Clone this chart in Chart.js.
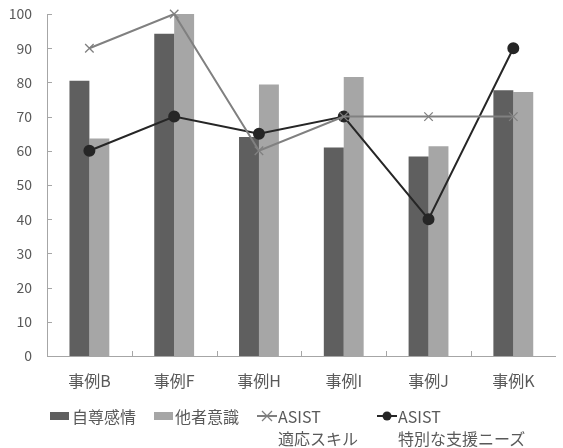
<!DOCTYPE html>
<html>
<head>
<meta charset="utf-8">
<script src="https://cdn.jsdelivr.net/npm/chart.js@4"></script>
<style>
  html, body { margin:0; padding:0; background:#fff; }
  #wrap { position:relative; width:563px; height:448px; font-family:"Noto Sans CJK JP","Noto Sans",sans-serif; color:#595959; }
  canvas { position:absolute; left:0; top:0; }
  .lg { position:absolute; font-size:16px; line-height:20px; white-space:nowrap; }
  .sw { position:absolute; }
</style>
</head>
<body>
<div id="wrap">
  <canvas id="c" width="563" height="448"></canvas>
  <div class="sw" style="left:50px;top:412px;width:19px;height:8px;background:#5f5f5f"></div>
  <div class="lg" id="l0" style="left:72px;top:406px"></div>
  <div class="sw" style="left:154px;top:412px;width:19px;height:8px;background:#a6a6a6"></div>
  <div class="lg" id="l1" style="left:175px;top:406px"></div>
  <svg class="sw" style="left:256px;top:408px" width="22" height="16">
    <line x1="1" y1="8" x2="21" y2="8" stroke="#7f7f7f" stroke-width="2"/>
    <line x1="6" y1="3" x2="16" y2="13" stroke="#7f7f7f" stroke-width="1.3"/>
    <line x1="6" y1="13" x2="16" y2="3" stroke="#7f7f7f" stroke-width="1.3"/>
  </svg>
  <div class="lg" id="l2a" style="left:278px;top:406px"></div>
  <div class="lg" id="l2b" style="left:278px;top:428px"></div>
  <svg class="sw" style="left:376px;top:408px" width="22" height="16">
    <line x1="1" y1="8" x2="21" y2="8" stroke="#262626" stroke-width="2"/>
    <circle cx="11" cy="8" r="4.5" fill="#262626"/>
  </svg>
  <div class="lg" id="l3a" style="left:398px;top:406px"></div>
  <div class="lg" id="l3b" style="left:398px;top:428px"></div>
</div>
<script>
const categories = ["事例B", "事例F", "事例H", "事例I", "事例J", "事例K"];
const seriesNames = ["自尊感情", "他者意識", ["ASIST", "適応スキル"], ["ASIST", "特別な支援ニーズ"]];
const selfEsteem = [80.5, 94.2, 64.0, 61.0, 58.3, 77.7];
const otherAwareness = [63.6, 100.0, 79.4, 81.6, 61.3, 77.2];
const asistAdaptive = [90, 100, 60, 70, 70, 70];
const asistSupport = [60, 70, 65, 70, 40, 90];
const yTicks = [0, 10, 20, 30, 40, 50, 60, 70, 80, 90, 100];

document.getElementById('l0').textContent = seriesNames[0];
document.getElementById('l1').textContent = seriesNames[1];
document.getElementById('l2a').textContent = seriesNames[2][0];
document.getElementById('l2b').textContent = seriesNames[2][1];
document.getElementById('l3a').textContent = seriesNames[3][0];
document.getElementById('l3b').textContent = seriesNames[3][1];

const FONT = '"Noto Sans CJK JP","Noto Sans",sans-serif';
const AXIS = '#a6a6a6';

const innerTicks = {
  id: 'innerTicks',
  afterDraw(chart) {
    const ctx = chart.ctx, a = chart.chartArea;
    const x = chart.scales.x, y = chart.scales.y;
    ctx.save();
    ctx.strokeStyle = AXIS;
    ctx.lineWidth = 1;
    ctx.beginPath();
    yTicks.forEach(v => {
      const py = Math.round(y.getPixelForValue(v)) + 0.5;
      ctx.moveTo(a.left, py); ctx.lineTo(a.left + 5, py);
    });
    const n = categories.length;
    for (let i = 1; i < n; i++) {
      const px = Math.round((x.getPixelForValue(i - 1) + x.getPixelForValue(i)) / 2) + 0.5;
      ctx.moveTo(px, a.bottom); ctx.lineTo(px, a.bottom - 5);
    }
    ctx.stroke();
    ctx.restore();
  }
};

new Chart(document.getElementById('c'), {
  data: {
    labels: categories,
    datasets: [
      { type: 'bar', label: seriesNames[0], data: selfEsteem, backgroundColor: '#5f5f5f', order: 2,
        categoryPercentage: 0.47, barPercentage: 1.0 },
      { type: 'bar', label: seriesNames[1], data: otherAwareness, backgroundColor: '#a6a6a6', order: 2,
        categoryPercentage: 0.47, barPercentage: 1.0 },
      { type: 'line', label: seriesNames[2].join(' '), data: asistAdaptive, borderColor: '#808080', borderWidth: 2,
        pointStyle: 'crossRot', pointRadius: 6, pointBorderColor: '#808080', pointBorderWidth: 1.3,
        backgroundColor: '#808080', tension: 0, order: 0, clip: false },
      { type: 'line', label: seriesNames[3].join(' '), data: asistSupport, borderColor: '#262626', borderWidth: 2,
        pointStyle: 'circle', pointRadius: 5, pointBackgroundColor: '#262626', pointBorderColor: '#262626',
        tension: 0, order: 1, clip: false }
    ]
  },
  options: {
    responsive: false,
    animation: false,
    devicePixelRatio: 1,
    layout: { padding: { top: 0, right: 0, left: 0, bottom: 0 } },
    plugins: { legend: { display: false }, tooltip: { enabled: false } },
    scales: {
      x: {
        grid: { display: false, drawTicks: false },
        border: { display: true, color: AXIS, width: 1 },
        ticks: { color: '#595959', font: { family: FONT, size: 16 }, padding: 15, maxRotation: 0 },
        afterFit(s) { s.height = 92; s.paddingLeft = 0; s.paddingRight = 0; }
      },
      y: {
        min: 0, max: 100,
        afterBuildTicks(s) { s.ticks = yTicks.map(v => ({ value: v })); },
        grid: { display: false, drawTicks: false },
        border: { display: true, color: AXIS, width: 1 },
        ticks: { color: '#595959', font: { family: FONT, size: 14 }, padding: 15 },
        afterFit(s) { s.width = 47; s.paddingTop = 14; s.paddingBottom = 0; }
      }
    }
  },
  plugins: [innerTicks]
});
</script>
</body>
</html>
